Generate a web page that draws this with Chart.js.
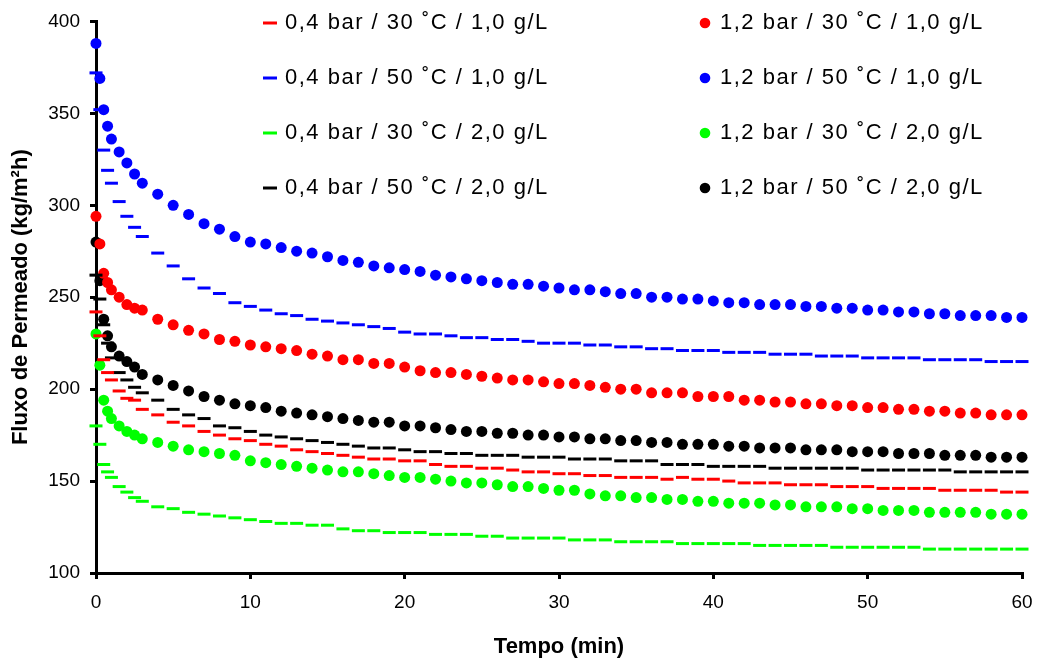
<!DOCTYPE html>
<html>
<head>
<meta charset="utf-8">
<title>Fluxo de Permeado</title>
<script src="https://cdn.jsdelivr.net/npm/chart.js@4.4.1/dist/chart.umd.min.js"></script>
<style>
html, body { margin: 0; padding: 0; background: #fff; }
</style>
</head>
<body>
<canvas id="fluxChart" width="1037" height="658"></canvas>
<script>
// tempo (min)
const times = [0, 0.25, 0.5, 0.75, 1, 1.5, 2, 2.5, 3,
  4, 5, 6, 7, 8, 9, 10, 11, 12, 13, 14, 15, 16, 17, 18, 19, 20,
  21, 22, 23, 24, 25, 26, 27, 28, 29, 30, 31, 32, 33, 34, 35, 36, 37, 38, 39, 40,
  41, 42, 43, 44, 45, 46, 47, 48, 49, 50, 51, 52, 53, 54, 55, 56, 57, 58, 59, 60];

// 0,4 bar series (dashes)
const flux04_30_10 = [242, 229, 216, 209, 205, 199, 195, 194, 189,
  186, 182, 180, 177, 175, 173, 172, 170, 169, 167, 166, 165, 164, 163, 162, 162, 161,
  161, 159, 158, 158, 157, 157, 156, 155, 155, 154, 154, 153, 153, 152, 152, 152, 151, 152, 151, 151,
  150, 149, 149, 149, 148, 148, 148, 147, 147, 147, 146, 146, 146, 146, 145, 145, 145, 145, 144, 144];
const flux04_50_10 = [372, 352, 330, 319, 312, 302, 294, 288, 283,
  274, 267, 260, 255, 252, 247, 245, 243, 241, 240, 238, 237, 236, 235, 234, 233, 231,
  230, 230, 229, 228, 228, 227, 227, 226, 225, 225, 225, 224, 224, 223, 223, 222, 222, 221, 221, 221,
  220, 220, 220, 219, 219, 219, 218, 218, 218, 217, 217, 217, 217, 216, 216, 216, 216, 215, 215, 215];
const flux04_30_20 = [180, 170, 159, 155, 152, 147, 144, 141, 139,
  136, 135, 133, 132, 131, 130, 129, 128, 127, 127, 126, 126, 124, 123, 123, 122, 122,
  122, 121, 121, 121, 120, 120, 119, 119, 119, 119, 118, 118, 118, 117, 117, 117, 117, 116, 116, 116,
  116, 116, 115, 115, 115, 115, 115, 114, 114, 114, 114, 114, 114, 113, 113, 113, 113, 113, 113, 113];
const flux04_50_20 = [262, 249, 235, 225, 217, 209, 205, 201, 198,
  194, 189, 186, 184, 180, 179, 177, 175, 174, 173, 172, 171, 170, 169, 168, 168, 167,
  166, 166, 165, 165, 164, 164, 164, 163, 163, 163, 162, 162, 162, 161, 161, 161, 159, 159, 159, 158,
  158, 158, 158, 157, 157, 157, 157, 157, 157, 156, 156, 156, 156, 156, 156, 155, 155, 155, 155, 155];

// 1,2 bar series (circles)
const flux12_30_10 = [294, 279, 263, 258, 254, 250, 246, 244, 243,
  238, 235, 232, 230, 227, 226, 224, 223, 222, 221, 219, 218, 216, 216, 214, 214, 212,
  210, 209, 209, 208, 207, 206, 205, 205, 204, 203, 203, 202, 201, 200, 200, 198, 198, 198, 196, 196,
  196, 194, 194, 193, 193, 192, 192, 191, 191, 190, 190, 189, 189, 188, 188, 187, 187, 186, 186, 186];
const flux12_50_10 = [388, 369, 352, 343, 336, 329, 323, 317, 312,
  306, 300, 295, 290, 287, 283, 280, 279, 277, 275, 274, 272, 270, 269, 267, 266, 265,
  264, 262, 261, 260, 259, 258, 257, 257, 256, 255, 254, 254, 253, 252, 252, 250, 250, 249, 249, 248,
  247, 247, 246, 246, 246, 245, 245, 244, 244, 243, 243, 242, 242, 241, 241, 240, 240, 240, 239, 239];
const flux12_30_20 = [230, 213, 194, 188, 184, 180, 177, 175, 173,
  171, 169, 167, 166, 165, 164, 161, 160, 159, 158, 157, 156, 155, 155, 154, 153, 152,
  152, 151, 150, 149, 149, 148, 147, 147, 146, 145, 145, 143, 142, 142, 141, 141, 140, 140, 139, 139,
  138, 138, 138, 137, 137, 136, 136, 136, 135, 135, 134, 134, 134, 133, 133, 133, 133, 132, 132, 132];
const flux12_50_20 = [280, 259, 238, 229, 223, 218, 215, 212, 208,
  205, 202, 199, 196, 194, 192, 191, 190, 188, 187, 186, 185, 184, 183, 182, 182, 180,
  180, 179, 178, 177, 177, 176, 176, 175, 175, 174, 174, 173, 173, 172, 172, 171, 171, 170, 170, 170,
  169, 169, 168, 168, 168, 167, 167, 167, 166, 166, 166, 165, 165, 165, 164, 164, 164, 163, 163, 163];

const seriesLabels = [
  '0,4 bar / 30 ˚C / 1,0 g/L',
  '0,4 bar / 50 ˚C / 1,0 g/L',
  '0,4 bar / 30 ˚C / 2,0 g/L',
  '0,4 bar / 50 ˚C / 2,0 g/L',
  '1,2 bar / 30 ˚C / 1,0 g/L',
  '1,2 bar / 50 ˚C / 1,0 g/L',
  '1,2 bar / 30 ˚C / 2,0 g/L',
  '1,2 bar / 50 ˚C / 2,0 g/L'
];
const seriesValues = [flux04_30_10, flux04_50_10, flux04_30_20, flux04_50_20,
  flux12_30_10, flux12_50_10, flux12_30_20, flux12_50_20];
const seriesColors = ['#ff0000', '#0000ff', '#00ff00', '#000000',
  '#ff0000', '#0000ff', '#00ff00', '#000000'];

const xTicks = [0, 10, 20, 30, 40, 50, 60];
const yTicks = [100, 150, 200, 250, 300, 350, 400];

const FONT = '"Liberation Sans", Arial, Helvetica, sans-serif';

function makeDataset(i) {
  const isDash = i < 4;
  const color = seriesColors[i];
  return {
    label: seriesLabels[i],
    data: seriesValues[i].map((v, k) => ({ x: times[k], y: v })),
    showLine: false,
    clip: false,
    pointStyle: isDash ? 'line' : 'circle',
    pointRadius: isDash ? 6.5 : 5.5,
    pointHoverRadius: isDash ? 6.5 : 5.5,
    pointBorderWidth: isDash ? 3 : 0,
    pointBorderColor: color,
    pointBackgroundColor: color,
    borderColor: color,
    backgroundColor: color
  };
}

// legend drawn inside the plot, two columns of four
const insideLegend = {
  id: 'insideLegend',
  afterDatasetsDraw(chart) {
    const ctx = chart.ctx;
    const markerX = [270, 705];
    const textX = [285, 720];
    const rowY = [23, 78, 133, 188];
    ctx.save();
    ctx.font = '22px ' + FONT;
    if ('letterSpacing' in ctx) ctx.letterSpacing = '1.5px';
    ctx.textBaseline = 'middle';
    chart.data.datasets.forEach((ds, i) => {
      const col = i < 4 ? 0 : 1;
      const y = rowY[i % 4];
      ctx.fillStyle = ds.pointBackgroundColor;
      ctx.strokeStyle = ds.pointBorderColor;
      if (ds.pointStyle === 'line') {
        ctx.lineWidth = 3;
        ctx.beginPath();
        ctx.moveTo(markerX[col] - 7, y);
        ctx.lineTo(markerX[col] + 7, y);
        ctx.stroke();
      } else {
        ctx.beginPath();
        ctx.arc(markerX[col], y, 5.3, 0, Math.PI * 2);
        ctx.fill();
      }
      ctx.fillStyle = '#000';
      ctx.fillText(ds.label, textX[col], y);
    });
    ctx.restore();
  }
};

new Chart(document.getElementById('fluxChart'), {
  type: 'scatter',
  data: {
    datasets: seriesLabels.map((_, i) => makeDataset(i))
  },
  options: {
    responsive: false,
    animation: false,
    layout: { autoPadding: false, padding: { left: 0, right: 15, top: 21, bottom: 0 } },
    plugins: {
      legend: { display: false },
      tooltip: { enabled: false }
    },
    scales: {
      x: {
        type: 'linear',
        min: xTicks[0],
        max: xTicks[xTicks.length - 1],
        afterBuildTicks: (s) => { s.ticks = xTicks.map(v => ({ value: v })); },
        afterFit: (s) => { s.height = 85; s.paddingLeft = 0; s.paddingRight = 0; },
        ticks: { color: '#000', font: { family: FONT, size: 19 }, padding: 12, maxRotation: 0 },
        grid: { drawOnChartArea: false, drawTicks: true, tickLength: 6, color: '#000', lineWidth: 3 },
        border: { display: true, color: '#000', width: 3 },
        title: {
          display: true, text: 'Tempo (min)', color: '#000',
          font: { family: FONT, size: 22, weight: 'bold', lineHeight: 1.0 },
          padding: { top: 0, bottom: 0 }
        }
      },
      y: {
        type: 'linear',
        min: yTicks[0],
        max: yTicks[yTicks.length - 1],
        afterBuildTicks: (s) => { s.ticks = yTicks.map(v => ({ value: v })); },
        afterFit: (s) => { s.width = 96; },
        ticks: { color: '#000', font: { family: FONT, size: 19 }, padding: 10 },
        grid: { drawOnChartArea: false, drawTicks: true, tickLength: 6, color: '#000', lineWidth: 3 },
        border: { display: true, color: '#000', width: 3 },
        title: {
          display: true, text: 'Fluxo de Permeado (kg/m²h)', color: '#000',
          font: { family: FONT, size: 22, weight: 'bold' },
          padding: { top: 8, bottom: 0 }
        }
      }
    }
  },
  plugins: [insideLegend]
});
</script>
</body>
</html>
